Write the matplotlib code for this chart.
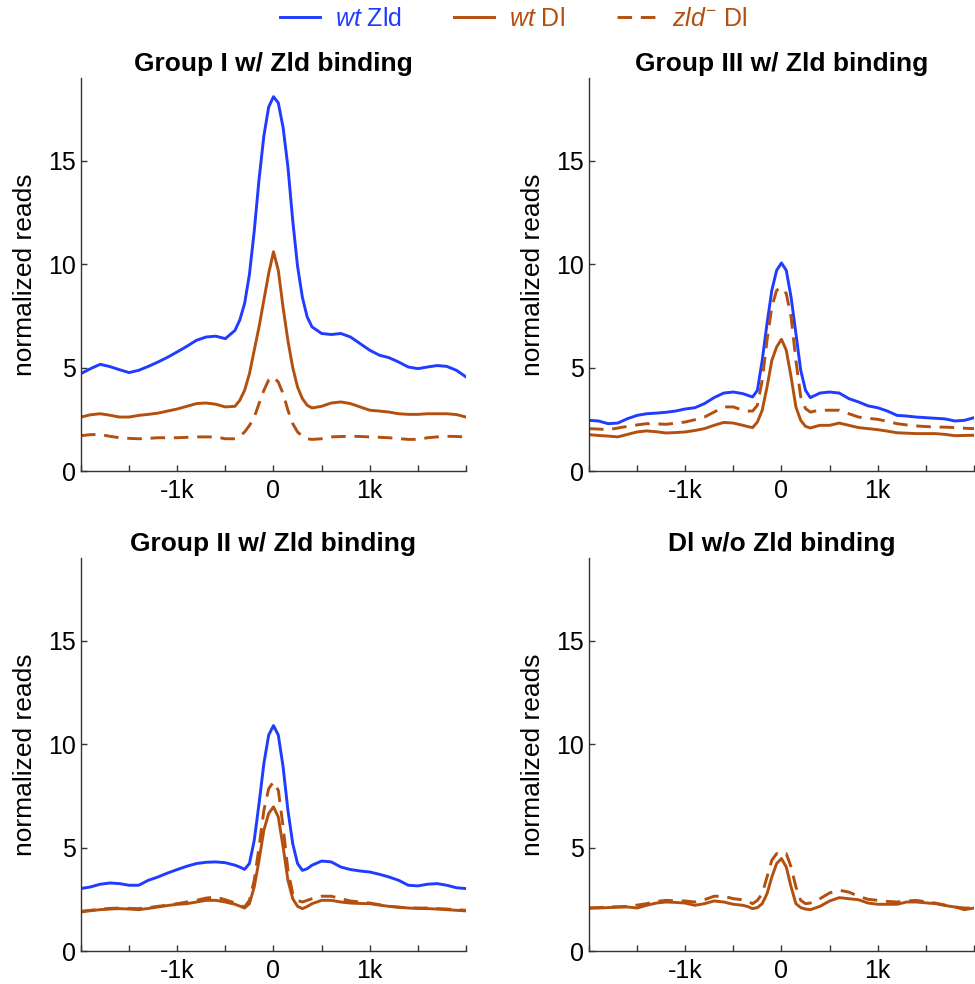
import numpy as np
import matplotlib
matplotlib.use("Agg")
import matplotlib.pyplot as plt

plt.rcParams['font.family'] = ['Liberation Sans', 'DejaVu Sans']
plt.rcParams['mathtext.fontset'] = 'custom'
plt.rcParams['mathtext.rm'] = 'Liberation Sans'
plt.rcParams['mathtext.it'] = 'Liberation Sans:italic'
plt.rcParams['mathtext.bf'] = 'Liberation Sans:bold'

# position relative to peak centre (bp)
pos = ([-2000, -1900, -1800, -1700, -1600, -1500, -1400, -1300, -1200, -1100,
        -1000, -900, -800, -700, -600, -500, -400]
       + [-350, -300, -250, -200, -150, -100, -50, 0, 50, 100, 150, 200, 250, 300, 350]
       + [400, 500, 600, 700, 800, 900, 1000, 1100, 1200, 1300, 1400, 1500,
          1600, 1700, 1800, 1900, 2000])

# Group I w/ Zld binding
g1_wt_zld = [4.71, 4.95, 5.16, 5.05, 4.9, 4.76, 4.87, 5.06, 5.27, 5.5, 5.76, 6.03, 6.32, 6.48, 6.52, 6.4, 6.8,
             7.3, 8.1, 9.5, 11.6, 14.1, 16.2, 17.6, 18.1, 17.8, 16.6, 14.7, 12.1, 9.9, 8.4, 7.45,
             6.97, 6.65, 6.6, 6.65, 6.48, 6.16, 5.84, 5.6, 5.48, 5.27, 5.03, 4.95, 5.03, 5.1, 5.06, 4.87, 4.55]
g1_wt_dl = [2.61, 2.72, 2.77, 2.7, 2.61, 2.61, 2.69, 2.74, 2.8, 2.9, 3.0, 3.13, 3.26, 3.29, 3.23, 3.1, 3.13,
            3.42, 3.9, 4.7, 5.84, 6.97, 8.26, 9.55, 10.6, 9.7, 7.9, 6.3, 5.0, 4.06, 3.5, 3.18,
            3.05, 3.13, 3.29, 3.34, 3.26, 3.1, 2.94, 2.9, 2.85, 2.77, 2.74, 2.74, 2.77, 2.77, 2.77, 2.73, 2.61]
g1_zld_dl = [1.71, 1.76, 1.77, 1.68, 1.61, 1.58, 1.56, 1.58, 1.61, 1.61, 1.61, 1.63, 1.65, 1.65, 1.65, 1.56, 1.56,
             1.68, 1.89, 2.2, 2.6, 3.26, 3.9, 4.4, 4.55, 4.3, 3.74, 2.94, 2.29, 1.89, 1.68, 1.56,
             1.53, 1.56, 1.65, 1.67, 1.68, 1.67, 1.65, 1.63, 1.61, 1.57, 1.53, 1.53, 1.61, 1.65, 1.68, 1.67, 1.65]

# Group III w/ Zld binding
g3_wt_zld = [2.45, 2.42, 2.29, 2.32, 2.53, 2.69, 2.77, 2.8, 2.84, 2.9, 3.0, 3.06, 3.26, 3.55, 3.77, 3.82, 3.74,
             3.66, 3.58, 3.9, 5.35, 7.13, 8.74, 9.7, 10.06, 9.7, 8.4, 6.65, 4.87, 3.9, 3.55, 3.66,
             3.77, 3.82, 3.77, 3.5, 3.34, 3.15, 3.06, 2.9, 2.69, 2.66, 2.61, 2.58, 2.55, 2.52, 2.42, 2.45, 2.58]
g3_wt_dl = [1.76, 1.72, 1.69, 1.65, 1.77, 1.89, 1.94, 1.9, 1.84, 1.86, 1.89, 1.96, 2.05, 2.21, 2.35, 2.32, 2.21,
            2.15, 2.1, 2.37, 2.94, 4.06, 5.35, 6.0, 6.37, 5.84, 4.55, 3.1, 2.45, 2.16, 2.08, 2.15,
            2.21, 2.21, 2.32, 2.21, 2.1, 2.05, 2.0, 1.93, 1.85, 1.83, 1.81, 1.81, 1.81, 1.77, 1.71, 1.72, 1.73]
g3_zld_dl = [2.05, 2.03, 2.0, 2.08, 2.16, 2.23, 2.29, 2.28, 2.26, 2.31, 2.37, 2.48, 2.61, 2.85, 3.1, 3.1, 2.94,
             2.9, 2.9, 3.18, 4.39, 6.32, 7.94, 8.74, 8.87, 8.58, 7.45, 5.35, 3.58, 3.02, 2.85, 2.9,
             2.94, 2.94, 2.94, 2.77, 2.61, 2.55, 2.5, 2.4, 2.29, 2.23, 2.18, 2.15, 2.13, 2.12, 2.1, 2.07, 2.05]

# Group II w/ Zld binding
g2_wt_zld = [3.02, 3.1, 3.23, 3.29, 3.26, 3.18, 3.18, 3.42, 3.58, 3.77, 3.94, 4.1, 4.23, 4.29, 4.31, 4.27, 4.15,
             4.06, 3.95, 4.23, 5.35, 7.13, 9.06, 10.44, 10.9, 10.44, 8.9, 6.8, 5.19, 4.23, 3.9, 3.98,
             4.15, 4.35, 4.31, 4.06, 3.94, 3.87, 3.82, 3.71, 3.58, 3.42, 3.18, 3.15, 3.23, 3.26, 3.18, 3.06, 3.02]
g2_wt_dl = [1.89, 1.95, 2.0, 2.03, 2.05, 2.03, 2.0, 2.06, 2.13, 2.2, 2.26, 2.29, 2.37, 2.45, 2.45, 2.37, 2.26,
            2.17, 2.08, 2.29, 3.1, 4.39, 5.84, 6.65, 6.97, 6.48, 5.03, 3.42, 2.53, 2.16, 2.05, 2.15,
            2.29, 2.45, 2.45, 2.37, 2.32, 2.3, 2.29, 2.22, 2.16, 2.12, 2.08, 2.06, 2.05, 2.03, 2.0, 1.97, 1.94]
g2_zld_dl = [1.92, 1.97, 2.02, 2.06, 2.08, 2.06, 2.05, 2.1, 2.16, 2.22, 2.29, 2.37, 2.45, 2.56, 2.61, 2.48, 2.32,
             2.22, 2.13, 2.45, 3.42, 5.03, 6.8, 7.85, 8.18, 7.77, 6.0, 3.9, 2.77, 2.45, 2.37, 2.45,
             2.53, 2.65, 2.65, 2.53, 2.42, 2.37, 2.32, 2.24, 2.16, 2.12, 2.08, 2.08, 2.08, 2.05, 2.03, 2.0, 1.97]

# Dl w/o Zld binding
g4_wt_dl = [2.08, 2.08, 2.1, 2.12, 2.13, 2.08, 2.21, 2.32, 2.37, 2.35, 2.32, 2.21, 2.29, 2.42, 2.37, 2.26, 2.21,
            2.15, 2.05, 2.1, 2.29, 2.77, 3.58, 4.23, 4.47, 4.06, 3.1, 2.29, 2.1, 2.03, 2.0, 2.08,
            2.16, 2.42, 2.58, 2.53, 2.48, 2.32, 2.26, 2.26, 2.26, 2.37, 2.37, 2.33, 2.29, 2.2, 2.13, 2.0, 2.08]
g4_zld_dl = [2.08, 2.1, 2.13, 2.14, 2.16, 2.22, 2.29, 2.4, 2.45, 2.43, 2.42, 2.37, 2.48, 2.65, 2.65, 2.53, 2.48,
             2.4, 2.29, 2.45, 2.77, 3.58, 4.39, 4.71, 4.63, 4.71, 4.06, 3.1, 2.45, 2.29, 2.32, 2.42,
             2.53, 2.81, 2.94, 2.85, 2.65, 2.5, 2.45, 2.4, 2.37, 2.42, 2.45, 2.38, 2.32, 2.22, 2.13, 2.08, 2.08]

titles = ['Group I w/ Zld binding', 'Group III w/ Zld binding',
          'Group II w/ Zld binding', 'Dl w/o Zld binding']
panels = [(g1_wt_zld, g1_wt_dl, g1_zld_dl),
          (g3_wt_zld, g3_wt_dl, g3_zld_dl),
          (g2_wt_zld, g2_wt_dl, g2_zld_dl),
          (None, g4_wt_dl, g4_zld_dl)]

blue = '#1f3cff'
brown = '#b4500f'

fig = plt.figure(figsize=(9.75, 9.84), dpi=100)
boxes = [[0.083, 0.5213, 0.395, 0.3994], [0.604, 0.5213, 0.395, 0.3994],
         [0.083, 0.0335, 0.395, 0.3994], [0.604, 0.0335, 0.395, 0.3994]]

handles = None
for box, title, (zld, wt, mut) in zip(boxes, titles, panels):
    ax = fig.add_axes(box)
    hs = []
    if zld is not None:
        hs.append(ax.plot(pos, zld, color=blue, lw=2.1, label=r'$\mathit{wt}$ Zld')[0])
    hs.append(ax.plot(pos, wt, color=brown, lw=2.1, label=r'$\mathit{wt}$ Dl')[0])
    hs.append(ax.plot(pos, mut, color=brown, lw=2.1, ls='--', dashes=(5, 3),
                      label=r'$\mathit{zld}^{-}$ Dl')[0])
    if handles is None:
        handles = hs
    ax.set_xlim(-2000, 2000)
    ax.set_ylim(0, 19)
    ax.set_xticks(np.arange(-2000, 2001, 500))
    ax.set_xticklabels(['', '', '-1k', '', '0', '', '1k', '', ''])
    ax.set_yticks([0, 5, 10, 15])
    ax.tick_params(direction='in', length=4, width=1, labelsize=18, color='#333333')
    ax.tick_params(axis='x', pad=6)
    ax.spines['top'].set_visible(False)
    ax.spines['right'].set_visible(False)
    for s in ['left', 'bottom']:
        ax.spines[s].set_color('#333333')
        ax.spines[s].set_linewidth(1)
    ax.set_ylabel('normalized reads', fontsize=19, labelpad=8)
    ax.set_title(title, fontsize=19, fontweight='bold', pad=5)

leg = fig.legend(handles=handles, loc='upper center', bbox_to_anchor=(0.527, 1.016), ncol=3,
                 frameon=False, fontsize=18, handlelength=1.6, handletextpad=0.6,
                 columnspacing=2.1, labelcolor='linecolor')

fig.savefig('out.png', dpi=100)
